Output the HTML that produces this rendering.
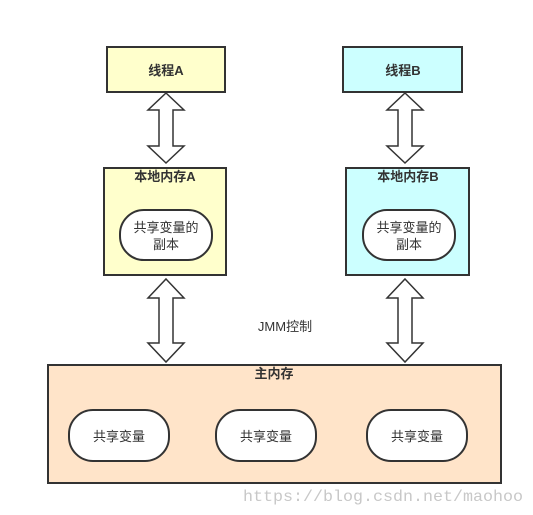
<!DOCTYPE html>
<html><head><meta charset="utf-8"><style>
body{margin:0;background:#fff;}
svg{display:block;}
text{font-family:"Liberation Sans","Noto Sans CJK SC",sans-serif;fill:#333;}
text.wm{font-family:"Liberation Mono",monospace;fill:#c8c8c8;}
</style></head><body>
<svg width="533" height="515" viewBox="0 0 533 515" xmlns="http://www.w3.org/2000/svg">
<g stroke="#333" stroke-width="2">
<rect x="107" y="47" width="118" height="45" fill="#ffffcc"/>
<rect x="343" y="47" width="119" height="45" fill="#ccffff"/>
<rect x="104" y="168" width="122" height="107" fill="#ffffcc"/>
<rect x="346" y="168" width="123" height="107" fill="#ccffff"/>
<rect x="48" y="365" width="453" height="118" fill="#ffe4c9"/>
<rect x="120" y="210" width="92" height="50" rx="24" fill="#fff"/>
<rect x="363" y="210" width="92" height="50" rx="24" fill="#fff"/>
<rect x="69" y="410" width="100" height="51" rx="24" fill="#fff"/>
<rect x="216" y="410" width="100" height="51" rx="24" fill="#fff"/>
<rect x="367" y="410" width="100" height="51" rx="24" fill="#fff"/>
</g>
<g stroke="#333" stroke-width="1.5" fill="#fff">
<path d="M166,93 L184,110 L173,110 L173,146 L184,146 L166,163 L148,146 L159,146 L159,110 L148,110 Z"/>
<path d="M405,93 L423,110 L412,110 L412,146 L423,146 L405,163 L387,146 L398,146 L398,110 L387,110 Z"/>
<path d="M166,279 L184,298 L173,298 L173,343 L184,343 L166,362 L148,343 L159,343 L159,298 L148,298 Z"/>
<path d="M405,279 L423,298 L412,298 L412,343 L423,343 L405,362 L387,343 L398,343 L398,298 L387,298 Z"/>
</g>
<g font-size="13" font-weight="bold" text-anchor="middle">
<text x="166" y="75">线程A</text>
<text x="403" y="75">线程B</text>
<text x="165" y="181">本地内存A</text>
<text x="408" y="181">本地内存B</text>
<text x="274" y="378">主内存</text>
</g>
<g font-size="13" text-anchor="middle">
<text x="166" y="232">共享变量的</text>
<text x="166" y="249">副本</text>
<text x="409" y="232">共享变量的</text>
<text x="409" y="249">副本</text>
<text x="119" y="441">共享变量</text>
<text x="266" y="441">共享变量</text>
<text x="417" y="441">共享变量</text>
<text x="285" y="331">JMM控制</text>
</g>
<text class="wm" x="243" y="501" font-size="16" textLength="280" lengthAdjust="spacingAndGlyphs">https://blog.csdn.net/maohoo</text>
</svg>
</body></html>
